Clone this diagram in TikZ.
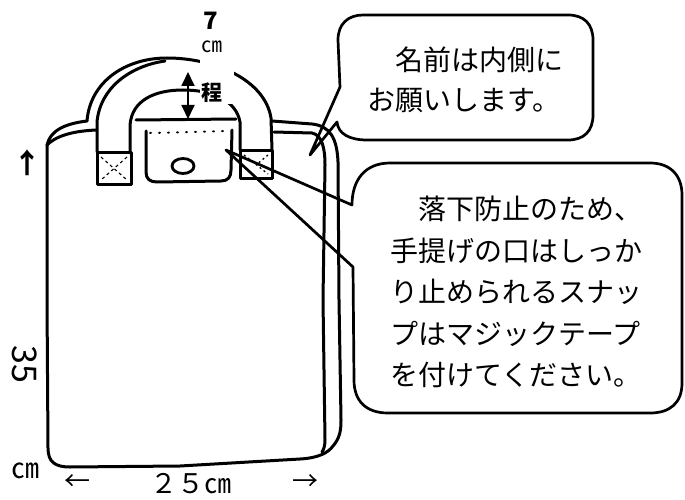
\documentclass[tikz,border=0pt]{standalone}
\usepackage{fontspec}
\setmainfont{Noto Sans CJK JP}
\usetikzlibrary{arrows.meta}
\begin{document}
\begin{tikzpicture}[x=1pt,y=-1pt,
  bag/.style={line width=3pt, line cap=round, line join=round},
  bubble/.style={line width=2.7pt, line join=round},
  lbl/.style={inner sep=0pt}]
\useasboundingbox (0,0) rectangle (685,500);
% body outline
\draw[bag] (47,145) -- (47,300) -- (48,448) .. controls (48,462) and (55,467) .. (70,467) -- (180,466) -- (300,459) .. controls (318,458) and (328,453) .. (333,446) .. controls (340,438) and (341,430) .. (341,420) -- (339,300) -- (338,162) .. controls (337,138) and (330,126) .. (312,124) -- (272,121);
\draw[bag] (274,132) -- (312,133) .. controls (322,135) and (325,148) .. (325,165) -- (323,300) -- (325,440) .. controls (325,445) and (324,449) .. (322,452);
% left top strip
\draw[bag] (47,145) .. controls (50,132) and (62,124) .. (87,121);
\draw[bag] (47,145) .. controls (55,137) and (70,131) .. (97,130);
% handle
\draw[bag] (87,121) .. controls (90,82) and (125,58) .. (167,58) .. controls (215,58) and (265,80) .. (271,118) -- (272,150);
\draw[bag] (97,152) -- (97,122) .. controls (100,88) and (130,66) .. (165,61);
\draw[bag] (130,153) -- (130,125) .. controls (132,100) and (155,90) .. (183,90) .. controls (212,90) and (236,100) .. (240,122) -- (240,150);
% tabs
\draw[bag] (97,152) rectangle (131,184);
\draw[bag] (240,150) rectangle (272,178);
\draw[line width=1.1pt, dashed] (101,157) -- (127,180) (127,157) -- (101,180);
\draw[line width=1.3pt, dash pattern=on 2pt off 3pt] (244,155) -- (268,174) (268,155) -- (256,165);
% lid and flap
\draw[bag] (136,120) -- (236,119);
\draw[bag] (146,131) -- (146,172) .. controls (146,179) and (150,182) .. (157,182) -- (221,181) .. controls (228,181) and (231,177) .. (231,170) -- (232,130);
\draw[line width=2pt, line cap=round, dash pattern=on 1pt off 8pt] (150,133) -- (228,131);
\draw[line width=2.8pt] (183,166) ellipse [x radius=11pt, y radius=7.5pt];
% 7cm dimension
\coordinate (a7t) at (188,72);
\coordinate (a7b) at (188,119);
\draw[line width=1.8pt, {Triangle[width=13pt,length=14pt]}-{Triangle[width=13pt,length=14pt]}] (a7t) -- (a7b);
\fill[white] (200,10) rectangle (234,104);
\node[lbl, font=\fontsize{24}{24}\selectfont\bfseries] (seven) at (211,21) {7};
\node[lbl, font=\fontsize{21}{21}\selectfont] (cm1) at (212,47) {㎝};
\node[lbl, font=\fontsize{21}{21}\selectfont\bfseries] (hodo) at (212,93) {程};
% callouts
\draw[bubble] (340,87) -- (338,40) .. controls (338,24) and (348,15) .. (363,15) -- (568,15) .. controls (584,15) and (593,24) .. (593,40) -- (593,115) .. controls (593,131) and (584,140) .. (568,140) -- (367,140) .. controls (350,140) and (338,134) .. (337,122) -- (310,155) -- cycle;
\draw[bubble] (352,205) .. controls (352,180) and (365,163) .. (390,163) -- (650,163) .. controls (670,163) and (682,175) .. (682,195) -- (682,383) .. controls (682,403) and (670,413) .. (650,413) -- (388,413) .. controls (366,413) and (354,401) .. (354,380) -- (353,267) -- (226,150) -- cycle;
\node[lbl, align=left, anchor=west, font=\fontsize{28}{40}\selectfont] (t1) at (367,80) {　名前は内側に\\お願いします。};
\node[lbl, align=left, anchor=west, font=\fontsize{28}{41.4}\selectfont] (t2) at (390,292) {　落下防止のため、\\手提げの口はしっか\\り止められるスナッ\\プはマジックテープ\\を付けてください。};
% dimension labels
\node[lbl, font=\fontsize{28}{28}\selectfont\bfseries] (up) at (27,163) {↑};
\node[lbl, rotate=-90, font=\fontsize{34}{34}\selectfont] (h35) at (25,364) {35};
\node[lbl, font=\fontsize{28}{28}\selectfont] (cm2) at (25,471) {㎝};
\node[lbl, font=\fontsize{26}{26}\selectfont] (la) at (77,483) {←};
\node[lbl, anchor=west, font=\fontsize{27}{27}\selectfont] (w25) at (150,484) {２５㎝};
\node[lbl, font=\fontsize{26}{26}\selectfont] (ra) at (305,483) {→};
\end{tikzpicture}
\end{document}
